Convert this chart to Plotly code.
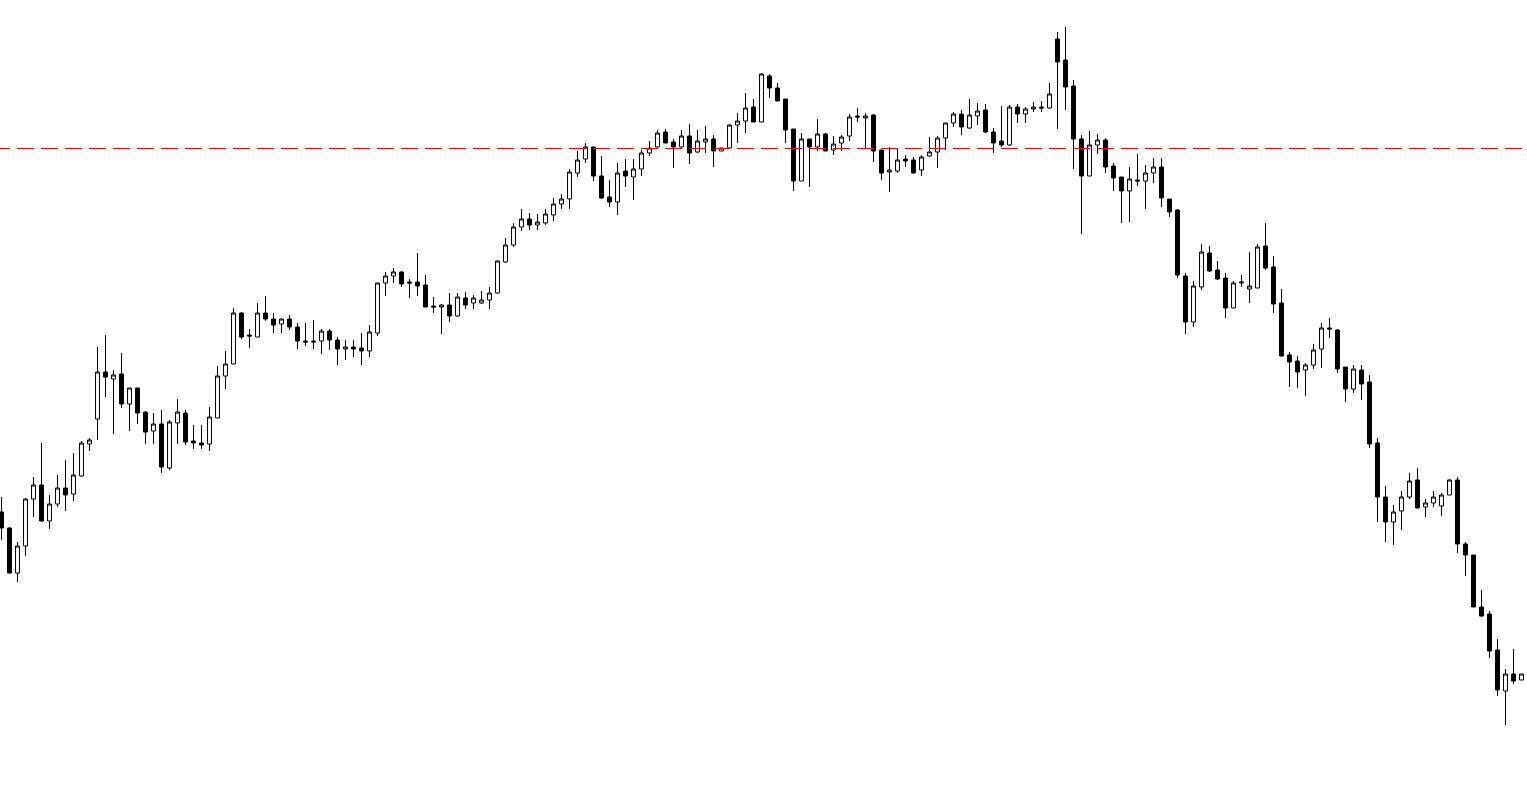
import plotly.graph_objects as go

# Price values (arbitrary units)
opens = [295,279,234,261,308,322,286,303,319,313,
         331,363,388,435,428,433,403,419,395,376,
         383,339,384,394,366,364,363,389,431,443,
         494,472,470,494,488,483,488,480,466,466,
         466,476,467,458,460,459,456,474,524,531,
         535,525,525,522,501,500,502,491,509,504,
         504,507,514,545,562,580,588,582,584,592,
         603,608,634,648,660,631,610,605,636,630,
         638,654,660,675,665,660,671,655,665,668,
         656,659,682,686,700,685,731,719,708,678,
         626,668,660,673,657,664,671,691,689,692,
         657,635,636,648,647,637,651,655,669,684,
         693,679,691,697,675,666,662,700,693,698,
         700,699,768,747,721,668,631,662,667,641,
         630,616,627,626,634,640,608,597,531,485,
         520,554,537,529,499,524,518,519,561,540,
         504,452,446,437,442,458,479,477,440,418,
         437,425,364,310,285,296,310,327,300,304,
         301,312,327,263,252,200,193,157,116,133,
         127,133]

highs = [310,280,265,309,330,364,312,332,347,354,
         366,369,460,472,437,454,419,419,396,394,
         397,387,408,397,382,382,400,441,456,499,
         495,478,504,511,494,489,492,484,484,487,
         478,478,470,467,467,474,482,524,535,539,
         536,528,554,532,510,503,514,514,515,512,
         516,520,547,569,584,598,594,593,598,609,
         613,638,656,664,660,651,627,644,648,648,
         657,666,677,678,668,677,683,677,681,672,
         659,683,694,714,708,734,733,724,708,678,
         674,668,688,674,671,672,693,699,694,693,
         657,660,659,652,650,652,670,671,684,695,
         697,708,704,703,679,701,702,703,700,705,
         706,724,775,780,727,672,676,673,669,644,
         630,640,653,642,649,649,608,598,534,526,
         563,561,546,534,526,532,555,563,584,551,
         518,455,451,444,463,484,489,478,440,442,
         442,432,369,321,302,316,334,339,308,316,
         314,328,330,265,252,217,196,168,138,158,
         133,140]

lows = [267,233,225,251,290,285,278,300,296,306,
        330,356,367,410,373,399,376,383,363,363,
        334,337,363,362,358,358,356,389,418,443,
        468,459,470,486,474,474,477,458,461,458,
        453,457,442,447,450,442,450,471,511,524,
        520,509,511,500,494,473,485,490,498,498,
        503,498,513,544,560,576,577,577,582,586,
        598,598,630,644,626,608,600,592,620,607,
        631,651,658,664,639,658,643,654,654,640,
        656,659,664,674,685,685,709,706,664,616,
        626,620,656,656,652,656,666,685,658,645,
        627,615,634,640,634,631,650,639,657,680,
        672,678,682,674,654,660,661,684,684,695,
        695,698,678,697,638,573,631,653,634,616,
        584,585,621,598,624,600,590,529,473,480,
        517,535,527,489,499,520,504,519,537,494,
        450,420,419,411,438,439,469,434,405,414,
        407,359,285,265,262,277,308,299,290,300,
        291,312,254,231,200,190,149,111,82,123,
        127,133]

closes = [279,234,261,308,322,286,303,319,312,332,
          364,367,435,430,432,403,419,394,375,383,
          340,385,395,365,364,362,390,431,443,494,
          470,471,494,488,482,488,480,466,465,465,
          476,467,458,460,458,456,475,524,531,535,
          523,524,521,500,500,502,491,510,502,509,
          507,514,546,562,580,588,582,585,593,603,
          608,635,647,660,631,609,605,634,631,638,
          654,659,674,664,660,671,654,666,668,656,
          659,682,686,699,685,733,719,706,677,626,
          668,660,673,656,663,670,690,690,691,656,
          634,637,647,646,634,650,655,669,684,693,
          680,692,696,675,664,662,700,693,698,700,
          699,713,745,720,668,631,662,667,640,629,
          616,628,626,634,640,609,595,532,485,521,
          555,536,528,499,524,525,521,560,539,503,
          451,445,435,442,457,479,478,438,418,438,
          423,363,310,285,295,310,326,299,304,310,
          312,327,263,252,200,191,156,117,133,126,
          133,140]

bars = list(range(len(opens)))
level = 658.5  # red dashed reference level

W, H = 1527, 807
px_per_bar = 8.0
x0 = -1.5 / px_per_bar
x_range = [x0, x0 + W / px_per_bar]
y_range = [0, 807]

fig = go.Figure()
fig.add_trace(go.Candlestick(
    x=bars, open=opens, high=highs, low=lows, close=closes,
    increasing=dict(line=dict(color="black", width=1), fillcolor="white"),
    decreasing=dict(line=dict(color="black", width=1), fillcolor="black"),
    whiskerwidth=0,
    showlegend=False,
    hoverinfo="skip",
))

fig.add_shape(type="line", xref="x", yref="y",
              x0=x_range[0] - 7 / px_per_bar, x1=x_range[1] + 1,
              y0=level, y1=level,
              line=dict(color="#ff0000", width=1, dash="17px,7px"))

fig.update_layout(
    width=W, height=H,
    margin=dict(l=0, r=0, t=0, b=0, pad=0),
    paper_bgcolor="white", plot_bgcolor="white",
    showlegend=False,
    xaxis=dict(visible=False, range=x_range, rangeslider=dict(visible=False),
               showgrid=False, zeroline=False),
    yaxis=dict(visible=False, range=y_range, showgrid=False, zeroline=False),
)

fig.write_html("out.html", config={"displayModeBar": False},
               post_script="document.body.style.margin='0';document.body.style.overflow='hidden';")
